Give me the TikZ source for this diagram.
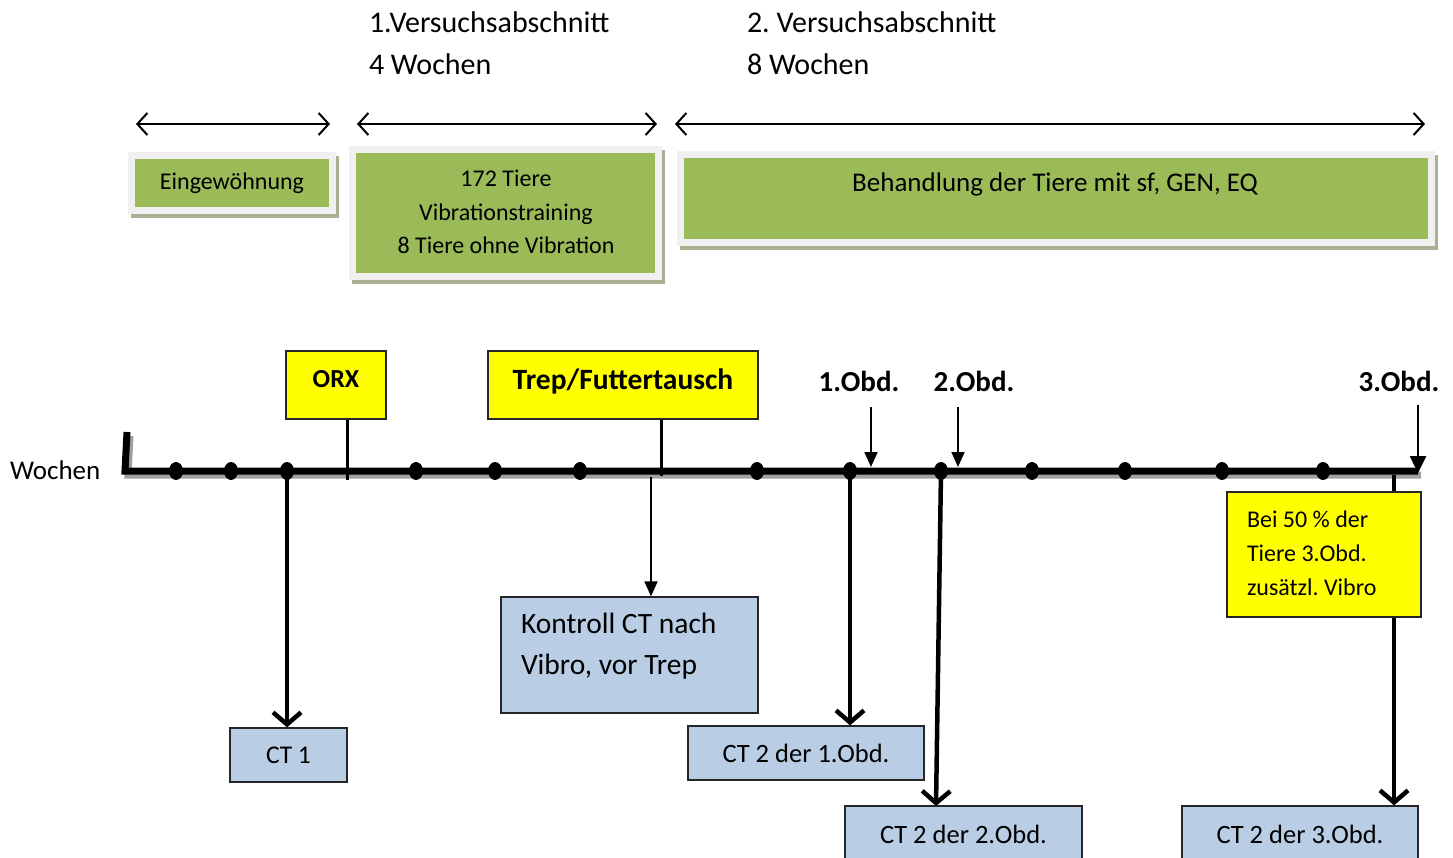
\documentclass[tikz,border=0pt]{standalone}
\usepackage{fontspec}
\setmainfont{Carlito}
\usetikzlibrary{arrows.meta,shapes.geometric}
\frenchspacing

\definecolor{phasegreen}{HTML}{9BBB59}
\definecolor{phaseframe}{HTML}{F0F0F0}
\definecolor{phaseshadow}{HTML}{A9B193}
\definecolor{ctblue}{HTML}{B9CDE5}
\definecolor{eventyellow}{HTML}{FFFF00}
\definecolor{axisshadow}{HTML}{A0A0A0}

\newcommand{\fs}[1]{\fontsize{#1}{#1}\selectfont}

\tikzset{
  phase/.style={fill=phasegreen, draw=phaseframe, line width=7pt, inner sep=0pt},
  phaseshade/.style={fill=phaseshadow, draw=none},
  event/.style={fill=eventyellow, draw=black!85, line width=1.3pt, inner sep=0pt},
  ctbox/.style={fill=ctblue, draw=black!85, line width=1.3pt, inner sep=0pt},
  week/.style={ellipse, fill=black, minimum width=14pt, minimum height=18pt, inner sep=0pt},
  span/.style={line width=2pt, {Straight Barb[length=10pt,width=22pt,line width=2pt]}-{Straight Barb[length=10pt,width=22pt,line width=2pt]}},
  bigarrow/.style={line width=4.5pt, -{Straight Barb[length=12pt,width=28pt,line width=4.5pt]}},
  thinarrow/.style={line width=1.8pt, -{Triangle[length=15pt,width=13pt]}},
  stem/.style={line width=3pt},
  plain/.style={inner sep=0pt, outer sep=0pt},
}

\begin{document}
\begin{tikzpicture}[x=1pt, y=-1pt]
\useasboundingbox (0,0) rectangle (1453,858);

% period headings
\node[plain, anchor=west, font=\fs{30}] (h1a) at (369,22) {1.Versuchsabschnitt};
\node[plain, anchor=west, font=\fs{30}] (h1b) at (369,64) {4 Wochen};
\node[plain, anchor=west, font=\fs{30}] (h2a) at (747,22) {2. Versuchsabschnitt};
\node[plain, anchor=west, font=\fs{30}] (h2b) at (747,64) {8 Wochen};

% duration spans
\coordinate (s1l) at (136,124); \coordinate (s1r) at (330,124);
\coordinate (s2l) at (357,124); \coordinate (s2r) at (657,124);
\coordinate (s3l) at (675,124); \coordinate (s3r) at (1425,124);
\draw[span] (s1l) -- (s1r);
\draw[span] (s2l) -- (s2r);
\draw[span] (s3l) -- (s3r);

% phase plates with their shadows
\fill[phaseshade] (131,156) rectangle (339,218);
\node[phase, minimum width=201pt, minimum height=55pt, font=\fs{24}] (eing) at (232,183) {Eingewöhnung};
\fill[phaseshade] (352,150) rectangle (665,284);
\node[phase, minimum width=306pt, minimum height=127pt] (vib) at (505.5,213) {};
\node[plain, font=\fs{24}, align=center] (vibtext) at (506,212)
  {172 Tiere\\[9.5pt]Vibrationstraining\\[9.5pt]8 Tiere ohne Vibration};
\fill[phaseshade] (680,155) rectangle (1438,250);
\node[phase, minimum width=751pt, minimum height=88pt] (beh) at (1056,198.5) {};
\node[plain, font=\fs{27}] (behtext) at (1055,184) {Behandlung der Tiere mit sf, GEN, EQ};

% time axis
\draw[axisshadow, line width=7pt] (130,436) -- (128,475) -- (1421,475);
\draw[black, line width=7pt] (127,432) -- (125,471) -- (1418,471);
\node[plain, anchor=west, font=\fs{27}] (wochen) at (10,470) {Wochen};

\foreach \n/\x in {w1/176, w2/231, w3/287, w4/416, w5/495, w6/580, w7/757,
                   w8/850, w9/941, w10/1032, w11/1125, w12/1222, w13/1323}
  \node[week] (\n) at (\x,471) {};

% events above the axis
\node[event, minimum width=100pt, minimum height=68pt] (orx) at (336,385) {};
\node[plain, font=\bfseries\fs{26}] (orxtext) at (336,379) {ORX};
\node[event, minimum width=270pt, minimum height=68pt] (trep) at (623,385) {};
\node[plain, font=\bfseries\fs{29.5}] (treptext) at (623,381) {Trep/Futtertausch};

\coordinate (orxfoot) at (347,480);
\coordinate (trepfoot) at (661,476);
\draw[stem] (orx.south -| orxfoot) -- (orxfoot);
\draw[stem] (trep.south -| trepfoot) -- (trepfoot);

\node[plain, font=\bfseries\fs{29}] (obd1) at (859,381) {1.Obd.};
\node[plain, font=\bfseries\fs{29}] (obd2) at (974,381) {2.Obd.};
\node[plain, font=\bfseries\fs{29}] (obd3) at (1399,381) {3.Obd.};
\coordinate (o1a) at (871,407); \coordinate (o1b) at (871,467);
\coordinate (o2a) at (958,407); \coordinate (o2b) at (958,467);
\coordinate (o3a) at (1418,405); \coordinate (o3b) at (1418,473);
\draw[thinarrow] (o1a) -- (o1b);
\draw[thinarrow] (o2a) -- (o2b);
\draw[line width=2.6pt, -{Triangle[length=17pt,width=16pt]}] (o3a) -- (o3b);

% scans below the axis
\node[ctbox, minimum width=117pt, minimum height=54pt, font=\fs{25.5}] (ct1) at (288.5,755) {CT 1};
\node[ctbox, minimum width=257pt, minimum height=116pt] (kontroll) at (629.5,655) {};
\node[plain, anchor=west, align=left, font=\fs{29.5}] (kontrolltext) at (521,646.5)
  {Kontroll CT nach\\[11.5pt]Vibro, vor Trep};
\node[ctbox, minimum width=236pt, minimum height=54pt, font=\fs{26.5}] (ct21) at (806,753) {CT 2 der 1.Obd.};
\node[ctbox, minimum width=237pt, minimum height=56pt, font=\fs{26.5}] (ct22) at (963.5,834) {CT 2 der 2.Obd.};
\node[ctbox, minimum width=236pt, minimum height=56pt, font=\fs{26.5}] (ct23) at (1300,834) {CT 2 der 3.Obd.};

\node[event, minimum width=194pt, minimum height=125pt] (vibro) at (1324,554.5) {};
\node[plain, anchor=west, align=left, font=\fs{24}] (vibrotext) at (1247,553)
  {Bei 50 \% der\\[10pt]Tiere 3.Obd.\\[10pt]zusätzl. Vibro};

\coordinate (kfoot) at (651,477);
\draw[thinarrow] (kfoot) -- (kfoot |- kontroll.north);
\draw[bigarrow] (w3.center) -- (ct1.north -| w3);
\draw[bigarrow] (w8.center) -- (ct21.north -| w8);
\draw[bigarrow] (w9.center) -- (936,806);
\coordinate (vfoot) at (1394,475);
\draw[stem, line width=4.5pt] (vfoot) -- (vfoot |- vibro.north);
\draw[bigarrow] (vibro.south -| vfoot) -- (vfoot |- ct23.north);
\end{tikzpicture}
\end{document}
